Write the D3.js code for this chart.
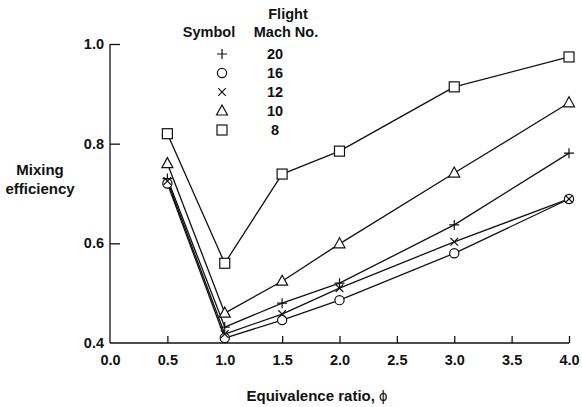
<!DOCTYPE html>
<html>
<head>
<meta charset="utf-8">
<script src="https://cdn.jsdelivr.net/npm/d3@7"></script>
<style>
  html, body { margin: 0; padding: 0; background: #fff; }
  svg text { font-family: Arial, "Liberation Sans", Helvetica, sans-serif; font-weight: bold; fill: #111; }
</style>
</head>
<body>
<svg id="chart" width="582" height="407"></svg>
<script>
// Equivalence ratio values along the x axis
const phi = [0.5, 1.0, 1.5, 2.0, 3.0, 4.0];

// Mixing efficiency for each flight Mach number
const mach20 = [0.73, 0.432, 0.48, 0.52, 0.637, 0.781];
const mach16 = [0.72, 0.41, 0.446, 0.486, 0.58, 0.689];
const mach12 = [0.725, 0.418, 0.458, 0.51, 0.603, 0.689];
const mach10 = [0.76, 0.46, 0.524, 0.599, 0.741, 0.882];
const mach8  = [0.82, 0.56, 0.739, 0.785, 0.914, 0.974];

const machLabels = ["20", "16", "12", "10", "8"];
const symbolKinds = ["plus", "circle", "cross", "triangle", "square"];
const seriesValues = [mach20, mach16, mach12, mach10, mach8];

const xTicks = [0, 0.5, 1.0, 1.5, 2.0, 2.5, 3.0, 3.5, 4.0];
const yTicks = [0.4, 0.6, 0.8, 1.0];

const svg = d3.select("#chart");
const x = d3.scaleLinear().domain([0, 4]).range([110, 569]);
const y = d3.scaleLinear().domain([0.4, 1.0]).range([343, 44]);

const ink = "#111";

// Axes: left and bottom lines with inward ticks
const yAxis = d3.axisLeft(y).tickValues(yTicks).tickSize(-10).tickPadding(16)
  .tickFormat(d3.format(".1f"));
const gy = svg.append("g").attr("transform", `translate(${x(0)},0)`).call(yAxis);
gy.select(".domain").attr("d", `M0,${y(1.0)}V${y(0.4)}`).attr("stroke", ink).attr("stroke-width", 1.3);
gy.selectAll(".tick line").attr("stroke", ink).attr("stroke-width", 1.3)
  .filter(d => d === 0.4).remove();
gy.selectAll(".tick text").attr("font-size", 14.5).attr("dx", 10).attr("fill", ink);

const xAxis = d3.axisBottom(x).tickValues(xTicks).tickSize(-7).tickPadding(12)
  .tickFormat(d3.format(".1f"));
const gx = svg.append("g").attr("transform", `translate(0,${y(0.4)})`).call(xAxis);
gx.select(".domain").attr("d", `M${x(0)},0H${x(4)}`).attr("stroke", ink).attr("stroke-width", 1.3);
gx.selectAll(".tick line").attr("stroke", ink).attr("stroke-width", 1.3)
  .filter(d => d === 0).remove();
gx.selectAll(".tick text").attr("font-size", 14.5).attr("fill", ink);

// Axis titles
svg.append("text").attr("x", 317).attr("y", 401).attr("text-anchor", "middle")
  .attr("font-size", 15)
  .text("Equivalence ratio, ")
  .append("tspan").attr("font-weight", "normal").text("ϕ");

const yTitle = svg.append("text").attr("x", 40).attr("text-anchor", "middle").attr("font-size", 15);
yTitle.append("tspan").attr("x", 40).attr("y", 175).text("Mixing");
yTitle.append("tspan").attr("x", 40).attr("y", 194).text("efficiency");

// Marker shapes
function drawMarker(g, kind, cx, cy) {
  const s = g.append("g").attr("transform", `translate(${cx},${cy})`)
    .attr("stroke", ink).attr("stroke-width", 1.2).attr("fill", "#fff");
  if (kind === "square") s.append("rect").attr("x", -5).attr("y", -5).attr("width", 10).attr("height", 10);
  else if (kind === "circle") s.append("circle").attr("r", 4.6);
  else if (kind === "triangle") s.append("path").attr("d", "M0,-6L5.5,4L-5.5,4Z");
  else if (kind === "plus") s.append("path").attr("d", "M-5,0H5M0,-5V5").attr("fill", "none");
  else if (kind === "cross") s.append("path").attr("d", "M-3.8,-3.8L3.8,3.8M-3.8,3.8L3.8,-3.8").attr("fill", "none");
}

// Series lines, then markers on top
const line = d3.line().x((d, i) => x(phi[i])).y(d => y(d));
const plot = svg.append("g");
seriesValues.forEach(vals => {
  plot.append("path").attr("d", line(vals)).attr("fill", "none")
    .attr("stroke", ink).attr("stroke-width", 1.3).attr("stroke-linejoin", "round");
});
seriesValues.forEach((vals, k) => {
  vals.forEach((v, i) => drawMarker(plot, symbolKinds[k], x(phi[i]), y(v)));
});

// Legend
const legend = svg.append("g");
legend.append("text").attr("x", 288).attr("y", 19).attr("text-anchor", "middle").attr("font-size", 14.5).text("Flight");
legend.append("text").attr("x", 286).attr("y", 37).attr("text-anchor", "middle").attr("font-size", 14.5).text("Mach No.");
legend.append("text").attr("x", 209).attr("y", 37).attr("text-anchor", "middle").attr("font-size", 14.5).text("Symbol");
const rowY = d3.scalePoint().domain(machLabels).range([54, 130]);
machLabels.forEach((lab, k) => {
  drawMarker(legend, symbolKinds[k], 222, rowY(lab));
  legend.append("text").attr("x", 275).attr("y", rowY(lab)).attr("dy", "0.36em")
    .attr("text-anchor", "middle").attr("font-size", 14.5).text(lab);
});
</script>
</body>
</html>
